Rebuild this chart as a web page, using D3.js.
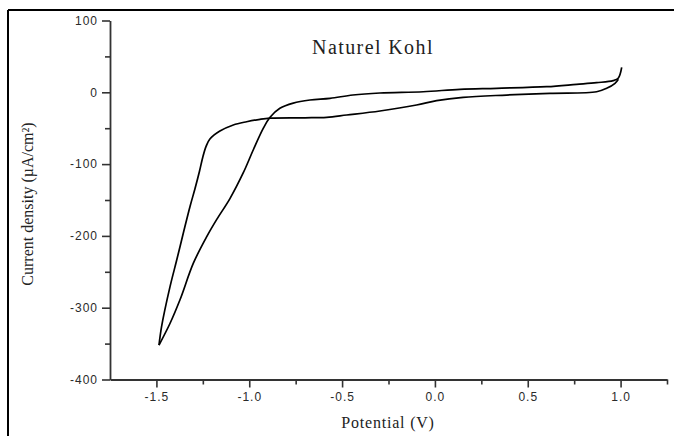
<!DOCTYPE html>
<html>
<head>
<meta charset="utf-8">
<script src="https://cdn.jsdelivr.net/npm/d3@7"></script>
<style>
  html, body { margin: 0; padding: 0; background: #fff; }
  svg { display: block; }
</style>
</head>
<body>
<script>
// ---- Data ----
const chartTitle = "Naturel Kohl";
const xLabel = "Potential (V)";
const yLabel = "Current density (\u00B5A/cm\u00B2)";

// Cathodic sweep: from +1.0 V down to -1.5 V
const forwardPotential = [1.006, 0.987, 0.960, 0.871, 0.763, 0.602, 0.332, 0.135, -0.063, -0.296, -0.442, -0.565, -0.673, -0.763, -0.835, -0.888, -0.924, -0.978, -1.032, -1.104, -1.175, -1.229, -1.301, -1.373, -1.427, -1.486];
const forwardCurrent   = [34.8, 19.5, 16.2, 13.4, 11.1, 7.8, 5.6, 4.2, 0.8, -1.0, -3.8, -8.4, -10.7, -15.0, -22.3, -34.8, -50.0, -80.0, -112.0, -148.0, -177.0, -201.0, -238.0, -289.0, -322.0, -352.0];

// Anodic sweep: from -1.5 V back to +1.0 V
const reversePotential = [-1.486, -1.472, -1.427, -1.391, -1.355, -1.319, -1.292, -1.268, -1.250, -1.232, -1.212, -1.158, -1.086, -1.014, -0.942, -0.888, -0.700, -0.583, -0.475, -0.296, -0.099, 0.009, 0.152, 0.386, 0.619, 0.871, 0.925, 0.970, 0.988];
const reverseCurrent   = [-352.0, -326.0, -271.0, -234.0, -196.0, -159.0, -134.0, -110.0, -90.0, -75.0, -65.0, -54.0, -45.5, -41.0, -37.6, -36.0, -35.5, -34.8, -31.6, -26.0, -17.7, -11.7, -7.0, -3.8, -1.4, 0.8, 5.6, 12.5, 18.1];

const xDomain = [-1.75, 1.25];
const yDomain = [-400, 100];
const xMajorTicks = [-1.5, -1.0, -0.5, 0.0, 0.5, 1.0];
const xMinorTicks = [-1.25, -0.75, -0.25, 0.25, 0.75, 1.25];
const yMajorTicks = [100, 0, -100, -200, -300, -400];
const yMinorTicks = [50, -50, -150, -250, -350];

// ---- Drawing ----
const W = 674, H = 436;
const svg = d3.select("body").append("svg").attr("width", W).attr("height", H);

// outer frame (top and left edges visible)
svg.append("line").attr("x1", 8).attr("y1", 10).attr("x2", W).attr("y2", 10)
  .attr("stroke", "#000").attr("stroke-width", 2);
svg.append("line").attr("x1", 8).attr("y1", 10).attr("x2", 8).attr("y2", H)
  .attr("stroke", "#000").attr("stroke-width", 2);

const x = d3.scaleLinear().domain(xDomain).range([110, 667]);
const y = d3.scaleLinear().domain(yDomain).range([379.5, 20.5]);

const axisColor = "#333";
const tickFont = "'Liberation Sans', Arial, sans-serif";
const serif = "'Liberation Serif', 'Times New Roman', serif";

// minor ticks
const gx = svg.append("g").attr("transform", `translate(0,${y(-400)})`);
gx.call(d3.axisBottom(x).tickValues(xMinorTicks).tickSize(5).tickFormat(""));
gx.call(g => g.select(".domain").remove());
const gy = svg.append("g").attr("transform", `translate(${x(-1.75)},0)`);
gy.call(d3.axisLeft(y).tickValues(yMinorTicks).tickSize(5).tickFormat(""));
gy.call(g => g.select(".domain").remove());

// major axes
const xAxis = svg.append("g").attr("transform", `translate(0,${y(-400)})`)
  .call(d3.axisBottom(x).tickValues(xMajorTicks).tickSize(8).tickSizeOuter(0).tickPadding(5)
    .tickFormat(d => d.toFixed(1)));
const yAxis = svg.append("g").attr("transform", `translate(${x(-1.75)},0)`)
  .call(d3.axisLeft(y).tickValues(yMajorTicks).tickSize(8).tickSizeOuter(0).tickPadding(4)
    .tickFormat(d => String(d)));

svg.selectAll(".domain").attr("stroke", axisColor).attr("stroke-width", 1.8);
svg.selectAll(".tick line").attr("stroke", axisColor).attr("stroke-width", 1.6);
svg.selectAll(".tick text").attr("fill", "#2a2a2a").style("font-family", tickFont)
  .style("font-size", "12px").style("letter-spacing", "1px");

// curve
const forward = forwardPotential.map((v, i) => [v, forwardCurrent[i]]);
const reverse = reversePotential.map((v, i) => [v, reverseCurrent[i]]);
const line = d3.line().x(d => x(d[0])).y(d => y(d[1])).curve(d3.curveCatmullRom.alpha(0.5));

[forward, reverse].forEach(series => {
  svg.append("path").datum(series).attr("d", line)
    .attr("fill", "none").attr("stroke", "#000").attr("stroke-width", 1.7)
    .attr("stroke-linejoin", "round");
});

// title
svg.append("text").attr("x", 373).attr("y", 54).attr("text-anchor", "middle")
  .style("font-family", serif).style("font-size", "20px").style("letter-spacing", "1.4px")
  .attr("fill", "#222").text(chartTitle);

// axis titles
svg.append("text").attr("x", 388).attr("y", 428).attr("text-anchor", "middle")
  .style("font-family", serif).style("font-size", "16px").style("letter-spacing", "0.8px")
  .attr("fill", "#222").text(xLabel);
svg.append("text").attr("transform", `translate(33,204) rotate(-90)`).attr("text-anchor", "middle")
  .style("font-family", serif).style("font-size", "16px")
  .attr("fill", "#222").text(yLabel);
</script>
</body>
</html>
